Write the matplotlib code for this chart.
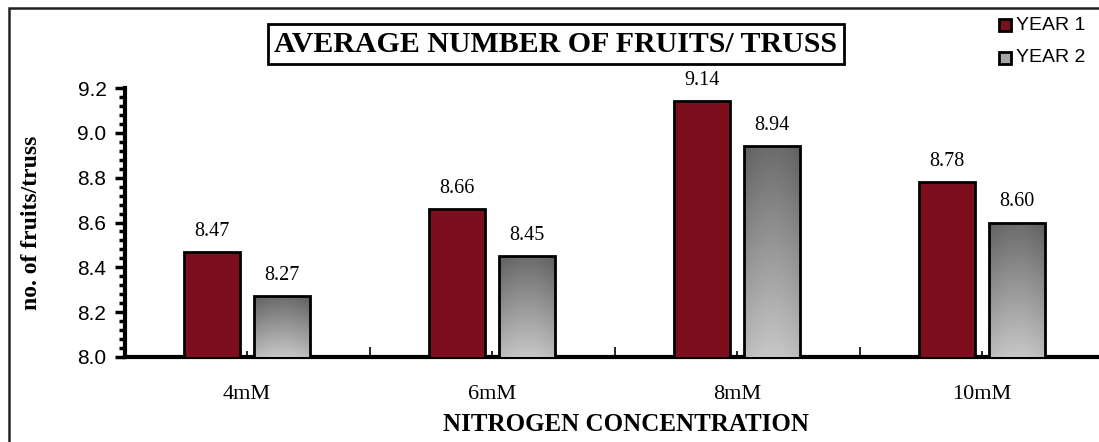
import numpy as np
import matplotlib
matplotlib.use("Agg")
import matplotlib.pyplot as plt
from matplotlib.patches import Rectangle
from matplotlib.ticker import MultipleLocator

categories = ["4mM", "6mM", "8mM", "10mM"]
year1 = [8.47, 8.66, 9.14, 8.78]
year2 = [8.27, 8.45, 8.94, 8.60]
series_names = ["YEAR 1", "YEAR 2"]

serif = "Liberation Serif"
sans = "Liberation Sans"
red = "#7d0e1d"

fig = plt.figure(figsize=(10.99, 4.42), dpi=100)
ax = fig.add_axes([124.5 / 1099, 85 / 442, 980 / 1099, 269 / 442])

x = np.arange(len(categories))
w = 0.225
off = 0.143

bars1 = ax.bar(x - off, year1, w, color=red, edgecolor="black", linewidth=2, zorder=3)
bars2 = ax.bar(x + off, year2, w, color="none", edgecolor="black", linewidth=2, zorder=4)

# gradient fill for the grey bars (dark top, light bottom)
yy = np.linspace(0, 1, 200)[:, None]
xx = np.linspace(-1, 1, 60)[None, :]
grad = 0.42 + 0.36 * yy - 0.05 * xx ** 2
for b in bars2:
    x0, h = b.get_x(), b.get_height()
    im = ax.imshow(grad, cmap="gray", vmin=0, vmax=1, aspect="auto", origin="upper",
                   extent=[x0, x0 + b.get_width(), 8.0, h], zorder=3, interpolation="bilinear")
    im.set_clip_path(b)

for b, v in zip(list(bars1) + list(bars2), year1 + year2):
    ax.annotate(f"{v:.2f}", (b.get_x() + b.get_width() / 2, v), xytext=(0, 8),
                textcoords="offset points", ha="center", va="bottom",
                fontsize=14.5, family=serif)

ax.set_xlim(-0.5, 3.5)
ax.set_ylim(8.0, 9.2)
ax.yaxis.set_major_locator(MultipleLocator(0.2))
ax.yaxis.set_minor_locator(MultipleLocator(0.04))
ax.set_yticklabels([f"{t:.1f}" for t in ax.get_yticks()])
ax.tick_params(axis="y", which="major", length=7, width=2.5, direction="out", labelsize=15, pad=6)
ax.tick_params(axis="y", which="minor", length=4, width=2.5, direction="out")
for lab in ax.get_yticklabels():
    lab.set_family(sans)

ax.set_xticks(x)
ax.set_xticklabels(categories, family=serif, fontsize=16)
ax.set_xticks(np.arange(-0.5, 3.6, 1), minor=True)
ax.tick_params(axis="x", which="major", length=4, width=1.2, direction="in", pad=20)
ax.tick_params(axis="x", which="minor", length=7, width=1.2, direction="in")

ax.spines["top"].set_visible(False)
ax.spines["right"].set_visible(False)
ax.spines["left"].set_linewidth(3)
ax.spines["bottom"].set_linewidth(3)

ax.set_xlabel("NITROGEN CONCENTRATION", family=serif, fontweight="bold", fontsize=18)
ax.xaxis.set_label_coords((626 - 124.5) / 980, -0.21)
ax.set_ylabel("no. of fruits/truss", family=serif, fontweight="bold", fontsize=17)
ax.yaxis.set_label_coords(-(124.5 - 42) / 980, 0.5)

fig.text(556 / 1099, 1 - 44 / 442, "AVERAGE NUMBER OF FRUITS/ TRUSS", family=serif,
         fontweight="bold", fontsize=21.5, ha="center", va="center",
         bbox=dict(boxstyle="square,pad=0.22", facecolor="white", edgecolor="black", linewidth=2))

# legend, drawn by hand at the top right
for i, (name, fc) in enumerate(zip(series_names, [red, "#a6a6a6"])):
    yc = 1 - (25 + 33 * i) / 442
    fig.patches.append(Rectangle((999 / 1099, yc - 6 / 442), 12 / 1099, 12 / 442,
                                 transform=fig.transFigure, facecolor=fc,
                                 edgecolor="black", linewidth=2))
    fig.text(1016 / 1099, yc, name, family=sans, fontsize=14, va="center", ha="left")

# outer chart border (left and top visible)
fig.patches.append(Rectangle((9 / 1099, -0.1), 1.2, 1 - 8 / 442 + 0.1, transform=fig.transFigure,
                             facecolor="none", edgecolor="#222222", linewidth=1.8))

fig.savefig("out.png", dpi=100)
